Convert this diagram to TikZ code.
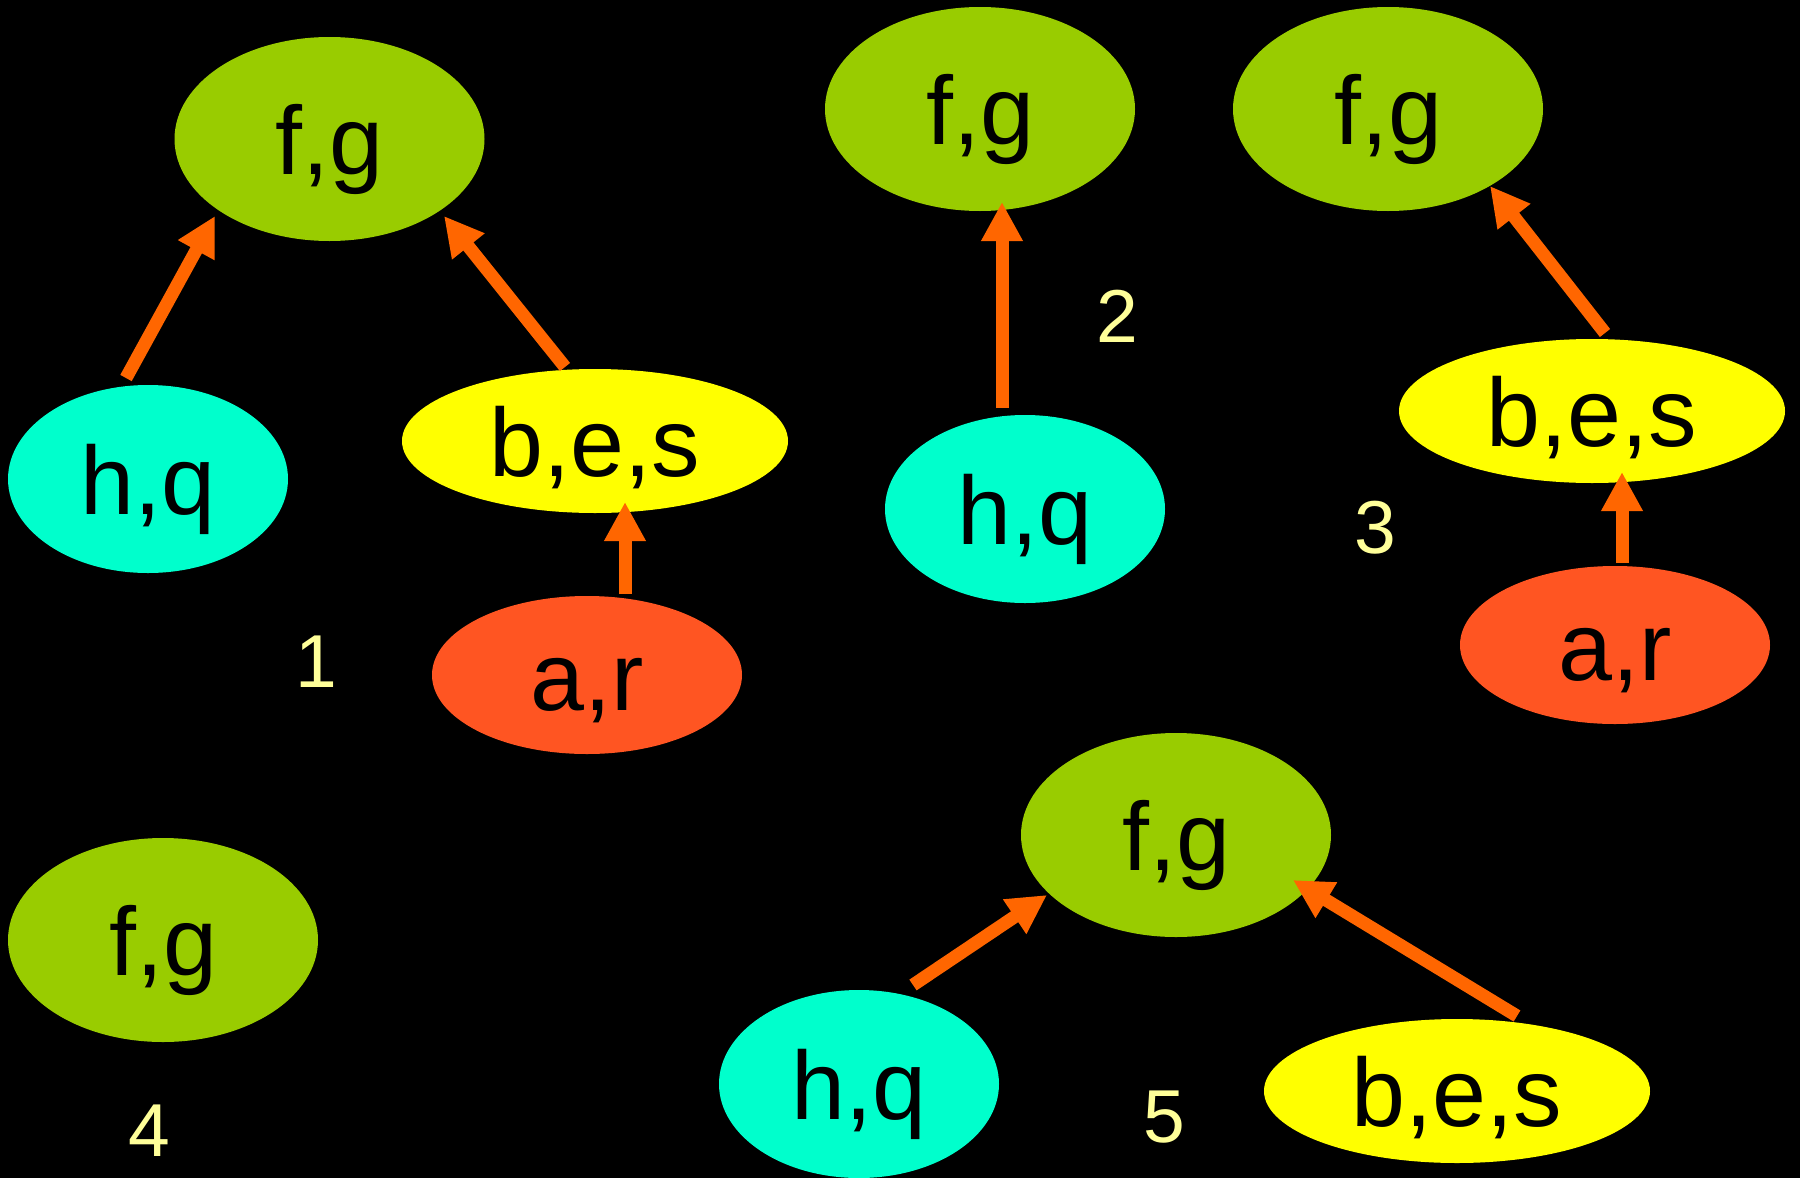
\documentclass[tikz,border=0pt]{standalone}
\usepackage{fontspec}
\setmainfont{Liberation Sans}
\usetikzlibrary{shapes.geometric,arrows.meta}

\definecolor{fgcol}{HTML}{99CC00}
\definecolor{hqcol}{HTML}{00FFCC}
\definecolor{bescol}{HTML}{FFFF00}
\definecolor{arcol}{HTML}{FF5522}
\definecolor{arrowcol}{HTML}{FF6600}
\definecolor{numcol}{HTML}{FFFF99}

\tikzset{
  blob/.style={ellipse, draw=none, inner sep=0pt, text=black,
    text height=70pt, text depth=0pt,
    font=\fontsize{97}{110}\selectfont},
  fgnode/.style={blob, fill=fgcol, minimum width=310pt, minimum height=204pt},
  hqnode/.style={blob, fill=hqcol, minimum width=280pt, minimum height=188pt},
  besnode/.style={blob, fill=bescol, minimum width=386pt, minimum height=144pt},
  arnode/.style={blob, fill=arcol, minimum width=310pt, minimum height=158pt},
  treenum/.style={text=numcol, inner sep=0pt, font=\fontsize{75}{90}\selectfont},
  link/.style={draw=arrowcol, line width=13pt,
    -{Triangle[width=39pt,length=39pt]}, fill=arrowcol}
}

\begin{document}
\begin{tikzpicture}[x=1pt, y=-1pt]
  \fill[black] (0,0) rectangle (1800,1178);
  \useasboundingbox (0,0) rectangle (1800,1178);

  % tree 1
  \node[fgnode]  (fg1)  at (329.5,139) {f,g};
  \node[hqnode]  (hq1)  at (148,479)   {h,q};
  \node[besnode] (bes1) at (595,441)   {b,e,s};
  \node[arnode]  (ar1)  at (587,675)   {a,r};
  \node[treenum] (n1)   at (316,662)   {1};
  \draw[link] ([shift={(-22,-101)}]hq1.center) -- ([shift={(-114.5,77)}]fg1.center);
  \draw[link] ([shift={(-30,-74)}]bes1.center) -- ([shift={(114.5,77)}]fg1.center);
  \draw[link] ([shift={(38,-81)}]ar1.center) -- ([shift={(30,61)}]bes1.center);

  % tree 2
  \node[fgnode]  (fg2)  at (980,109)   {f,g};
  \node[hqnode]  (hq2)  at (1025,509)  {h,q};
  \node[treenum] (n2)   at (1117,316)  {2};
  \draw[link] ([shift={(-23,-101)}]hq2.center) -- ([shift={(22,93)}]fg2.center);

  % tree 3
  \node[fgnode]  (fg3)  at (1388,109)  {f,g};
  \node[besnode] (bes3) at (1592,411)  {b,e,s};
  \node[arnode]  (ar3)  at (1615,645)  {a,r};
  \node[treenum] (n3)   at (1375,528)  {3};
  \draw[link] ([shift={(13,-78)}]bes3.center) -- ([shift={(102,77)}]fg3.center);
  \draw[link] ([shift={(7,-82)}]ar3.center) -- ([shift={(30,61)}]bes3.center);

  % tree 4
  \node[fgnode]  (fg4)  at (163,940)   {f,g};
  \node[treenum] (n4)   at (149,1131)  {4};

  % tree 5
  \node[fgnode]  (fg5)  at (1176,835)  {f,g};
  \node[hqnode]  (hq5)  at (859,1084)  {h,q};
  \node[besnode] (bes5) at (1457,1091) {b,e,s};
  \node[treenum] (n5)   at (1164,1117) {5};
  \draw[link] ([shift={(54,-99)}]hq5.center) -- ([shift={(-129,60)}]fg5.center);
  \draw[link] ([shift={(60,-75)}]bes5.center) -- ([shift={(117,45)}]fg5.center);
\end{tikzpicture}
\end{document}
